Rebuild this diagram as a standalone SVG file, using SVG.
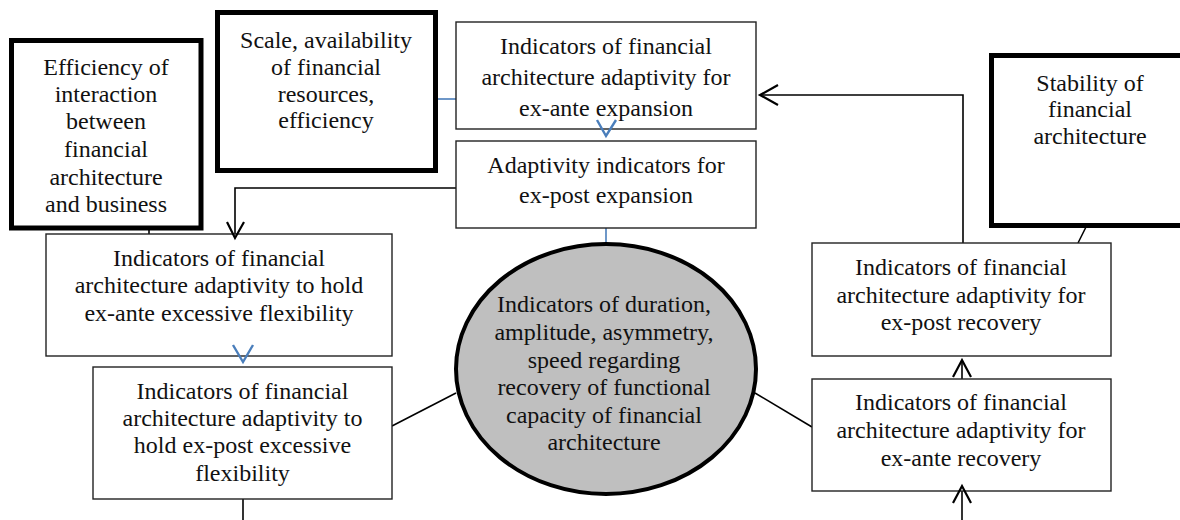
<svg xmlns="http://www.w3.org/2000/svg" width="1180" height="520" viewBox="0 0 1180 520">
<style>
.t{font-size:24px;fill:#111;text-anchor:middle}
.thin{fill:#fff;stroke:#222;stroke-width:1.4}
.thick{fill:#fff;stroke:#000;stroke-width:5}
.blk{fill:none;stroke:#000;stroke-width:1.6}
.arr{fill:none;stroke:#000;stroke-width:2.2}
.blu{fill:none;stroke:#4a7ebb;stroke-width:1.6}
.bluv{fill:none;stroke:#4a7ebb;stroke-width:2.4}
</style>
<rect width="1180" height="520" fill="#fff"/>
<g id="connectors">
<line class="blu" x1="438" y1="99" x2="456" y2="99"/>
<line class="blu" x1="606" y1="228" x2="606" y2="244"/>
<polyline class="blk" points="456,188 235,188 235,237"/>
<polyline class="blk" points="963,243 963,95 762,95"/>
<line class="blk" x1="149" y1="230" x2="149" y2="243"/>
<line class="blk" x1="243" y1="480" x2="243" y2="520"/>
<line class="blk" x1="392" y1="426" x2="456" y2="393"/>
<line class="blk" x1="755" y1="393" x2="812" y2="427"/>
<line class="blk" x1="1090" y1="219" x2="1078" y2="243"/>
<line class="blk" x1="962" y1="392" x2="962" y2="361"/>
<line class="blk" x1="962" y1="520" x2="962" y2="487"/>
</g>
<g font-family="'Liberation Serif', 'Times New Roman', 'DejaVu Serif', serif">
<g id="n-efficiency">
<rect class="thick" x="11.5" y="40.5" width="189.5" height="187.5"/>
<text class="t" x="106" y="75">Efficiency of</text>
<text class="t" x="106" y="102">interaction</text>
<text class="t" x="106" y="129">between</text>
<text class="t" x="106" y="157">financial</text>
<text class="t" x="106" y="185">architecture</text>
<text class="t" x="106" y="212">and business</text>
</g>
<g id="n-scale">
<rect class="thick" x="217.5" y="12.5" width="218" height="158"/>
<text class="t" x="326" y="48">Scale, availability</text>
<text class="t" x="326" y="75">of financial</text>
<text class="t" x="326" y="102">resources,</text>
<text class="t" x="326" y="128">efficiency</text>
</g>
<g id="n-exante-expansion">
<rect class="thin" x="456" y="22" width="300" height="107"/>
<text class="t" x="606" y="54">Indicators of financial</text>
<text class="t" x="606" y="85">architecture adaptivity for</text>
<text class="t" x="606" y="116">ex-ante expansion</text>
</g>
<g id="n-expost-expansion">
<rect class="thin" x="456" y="141" width="300" height="87"/>
<text class="t" x="606" y="173">Adaptivity indicators for</text>
<text class="t" x="606" y="203">ex-post expansion</text>
</g>
<g id="n-stability">
<rect class="thick" x="991.5" y="55.5" width="200" height="170"/>
<text class="t" x="1090" y="91">Stability of</text>
<text class="t" x="1090" y="117">financial</text>
<text class="t" x="1090" y="144">architecture</text>
</g>
<g id="n-hold-exante">
<rect class="thin" x="46" y="234" width="346" height="122"/>
<text class="t" x="219" y="266">Indicators of financial</text>
<text class="t" x="219" y="293">architecture adaptivity to hold</text>
<text class="t" x="219" y="321">ex-ante excessive flexibility</text>
</g>
<g id="n-hold-expost">
<rect class="thin" x="93" y="367" width="299" height="132"/>
<text class="t" x="242.5" y="399">Indicators of financial</text>
<text class="t" x="242.5" y="426">architecture adaptivity to</text>
<text class="t" x="242.5" y="453">hold ex-post excessive</text>
<text class="t" x="242.5" y="481">flexibility</text>
</g>
<g id="n-center">
<ellipse cx="606" cy="369" rx="150" ry="125" fill="#bfbfbf" stroke="#000" stroke-width="4"/>
<text class="t" x="604" y="312">Indicators of duration,</text>
<text class="t" x="604" y="340">amplitude, asymmetry,</text>
<text class="t" x="604" y="368">speed regarding</text>
<text class="t" x="604" y="395">recovery of functional</text>
<text class="t" x="604" y="423">capacity of financial</text>
<text class="t" x="604" y="450">architecture</text>
</g>
<g id="n-expost-recovery">
<rect class="thin" x="812" y="243" width="299" height="113"/>
<text class="t" x="961" y="275">Indicators of financial</text>
<text class="t" x="961" y="303">architecture adaptivity for</text>
<text class="t" x="961" y="330">ex-post recovery</text>
</g>
<g id="n-exante-recovery">
<rect class="thin" x="812" y="379" width="299" height="112"/>
<text class="t" x="961" y="410">Indicators of financial</text>
<text class="t" x="961" y="438">architecture adaptivity for</text>
<text class="t" x="961" y="466">ex-ante recovery</text>
</g>
</g>
<g id="arrowheads">
<polyline class="bluv" points="597,120 606,136 616,120"/>
<polyline class="bluv" points="233,345 243,362 253,345"/>
<polyline class="arr" points="227,222 235,238 244,222"/>
<polyline class="arr" points="778,85 760,95 778,105"/>
<polyline class="arr" points="953,377 962,360 971,377"/>
<polyline class="arr" points="953,503 962,486 971,503"/>
</g>
</svg>
